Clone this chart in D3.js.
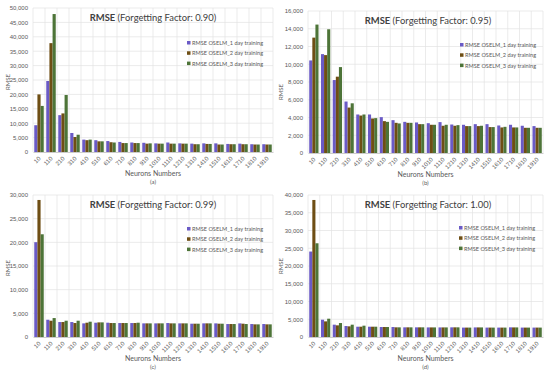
<!DOCTYPE html>
<html><head><meta charset="utf-8">
<script src="https://cdn.jsdelivr.net/npm/d3@7/dist/d3.min.js"></script>
<style>body{margin:0;background:#fff}svg{display:block;font-family:Lato,"Open Sans",sans-serif}</style>
</head><body><svg id="c" width="550" height="375"></svg>
<script>
const neurons = ["10","110","210","310","410","510","610","710","810","910","1010","1110","1210","1310","1410","1510","1610","1710","1810","1910"];
const seriesNames = ["RMSE OSELM_1 day training","RMSE OSELM_2 day training","RMSE OSELM_3 day training"];
const factors = ["0.90","0.95","0.99","1.00"];
const subLabels = ["(a)","(b)","(c)","(d)"];
const yMaxes = [50000,16000,30000,40000];
const yStepsArr = [5000,2000,5000,5000];

const ffA_1 = [9300,24650,12800,6600,4300,4100,3800,3500,3300,3200,3000,3300,3000,2900,3000,3000,2800,2900,2700,2700];
const ffA_2 = [20000,37800,13400,5200,4100,3700,3400,3100,3100,2900,2900,2900,2900,2700,2800,2600,2700,2700,2600,2600];
const ffA_3 = [16000,47900,19800,6000,4300,3700,3300,3100,3100,3000,2900,2900,2900,2700,2800,2600,2700,2700,2600,2600];

const ffB_1 = [10430,11140,8220,5800,4340,4340,4040,3700,3510,3440,3360,3480,3210,3180,3250,3250,3100,3180,3070,3030];
const ffB_2 = [13000,11030,8600,5120,4220,3890,3590,3400,3400,3250,3180,3070,3070,3030,3030,2920,2880,2880,2840,2840];
const ffB_3 = [14470,13940,9680,5600,4340,3930,3510,3330,3400,3250,3180,3180,3140,3030,3070,2920,2950,2880,2840,2840];

const ffC_1 = [20030,3650,3160,3160,2880,3020,3020,2950,2950,2880,2880,2950,2880,2810,2880,2880,2740,2880,2740,2740];
const ffC_2 = [28950,3440,3160,2950,3020,3090,2950,2950,2950,2880,2880,2880,2880,2810,2880,2810,2740,2810,2670,2670];
const ffC_3 = [21700,4000,3440,3440,3230,3090,2950,2950,3020,2880,2880,2880,2880,2810,2880,2810,2740,2740,2670,2670];

const ffD_1 = [24070,4870,3470,3090,2900,2900,2810,2810,2720,2720,2700,2700,2720,2650,2700,2650,2650,2720,2650,2650];
const ffD_2 = [38600,4400,3280,3000,2900,2900,2810,2720,2720,2720,2700,2700,2720,2650,2700,2650,2650,2700,2650,2650];
const ffD_3 = [26400,5150,3930,3470,3190,2900,2810,2720,2720,2720,2700,2700,2720,2650,2700,2650,2650,2700,2650,2650];

const panelData = [[ffA_1,ffA_2,ffA_3],[ffB_1,ffB_2,ffB_3],[ffC_1,ffC_2,ffC_3],[ffD_1,ffD_2,ffD_3]];

const colors = ["#6a5ac6","#6e4e14","#4d7438"];
const layout = [
  {l:33,r:273,t:8,b:152,tx:153,ty:21,lx:189,ly:43,yl:[10,82]},
  {l:308,r:543,t:11,b:153,tx:428,ty:24,lx:462,ly:45,yl:[283,92]},
  {l:33,r:273,t:195,b:337,tx:153,ty:208,lx:189,ly:229,yl:[10,268]},
  {l:308,r:543,t:195,b:337,tx:428,ty:208,lx:461,ly:228,yl:[283,266]}
];
const svg = d3.select("#c");
panelData.forEach((series,pi)=>{
  const L = layout[pi];
  const g = svg.append("g");
  const x = d3.scaleBand().domain(neurons).range([L.l,L.r]);
  const x1 = d3.scaleBand().domain([0,1,2]).range([0,x.bandwidth()]).paddingInner(0.0).paddingOuter(0.4);
  const y = d3.scaleLinear().domain([0,yMaxes[pi]]).range([L.b,L.t]);
  const ticks = d3.range(0,yMaxes[pi]+1,yStepsArr[pi]);
  g.selectAll(".hg").data(ticks.slice(1)).join("line")
    .attr("x1",L.l).attr("x2",L.r).attr("y1",d=>y(d)).attr("y2",d=>y(d))
    .attr("stroke","#e3e3e3").attr("stroke-width",0.7);
  g.selectAll(".vg").data(neurons.concat(["__end"])).join("line")
    .attr("x1",(d,i)=>L.l+i*x.bandwidth()).attr("x2",(d,i)=>L.l+i*x.bandwidth())
    .attr("y1",L.t).attr("y2",L.b).attr("stroke","#e3e3e3").attr("stroke-width",0.7);
  const ya = d3.axisLeft(y).tickValues(ticks).tickSize(0).tickPadding(5).tickFormat(d3.format(","));
  const yg = g.append("g").attr("transform",`translate(${L.l},0)`).call(ya);
  yg.select(".domain").remove();
  yg.selectAll("text").attr("fill","#595959").style("font-size","6px");
  series.forEach((vals,si)=>{
    g.selectAll(".b"+si).data(vals).join("rect")
      .attr("x",(d,i)=>x(neurons[i])+x1(si)).attr("width",x1.bandwidth())
      .attr("y",d=>y(d)).attr("height",d=>L.b-y(d)).attr("fill",colors[si]);
  });
  const xa = d3.axisBottom(x).tickSize(0).tickPadding(0);
  const xg = g.append("g").attr("transform",`translate(0,${L.b})`).call(xa);
  xg.select(".domain").attr("stroke","#bfbfbf").attr("stroke-width",0.8);
  xg.selectAll("text").attr("fill","#595959").style("font-size","6px")
    .attr("text-anchor","end").attr("dy","0").attr("y",0)
    .attr("transform","translate(2,7) rotate(-45)");
  const t = g.append("text").attr("x",L.tx).attr("y",L.ty).attr("text-anchor","middle")
    .attr("fill","#404040").style("font-size","9.4px");
  t.append("tspan").attr("font-weight","bold").text("RMSE");
  t.append("tspan").text(" (Forgetting Factor: "+factors[pi]+")");
  seriesNames.forEach((n,si)=>{
    const yy = L.ly + si*10.3;
    g.append("rect").attr("x",L.lx-2).attr("y",yy-2).attr("width",3.5).attr("height",3.5).attr("fill",colors[si]);
    g.append("text").attr("x",L.lx+3).attr("y",yy+2).attr("fill","#595959").style("font-size","5.6px").text(n);
  });
  g.append("text").attr("transform",`translate(${L.yl[0]},${L.yl[1]}) rotate(-90)`).attr("text-anchor","middle")
    .attr("fill","#595959").style("font-size","6px").text("RMSE");
  g.append("text").attr("x",(L.l+L.r)/2).attr("y",L.b+24).attr("text-anchor","middle")
    .attr("fill","#595959").style("font-size","7px").text("Neurons Numbers");
  g.append("text").attr("x",(L.l+L.r)/2).attr("y",L.b+32).attr("text-anchor","middle")
    .attr("fill","#595959").style("font-size","6px").text(subLabels[pi]);
});
</script></body></html>
